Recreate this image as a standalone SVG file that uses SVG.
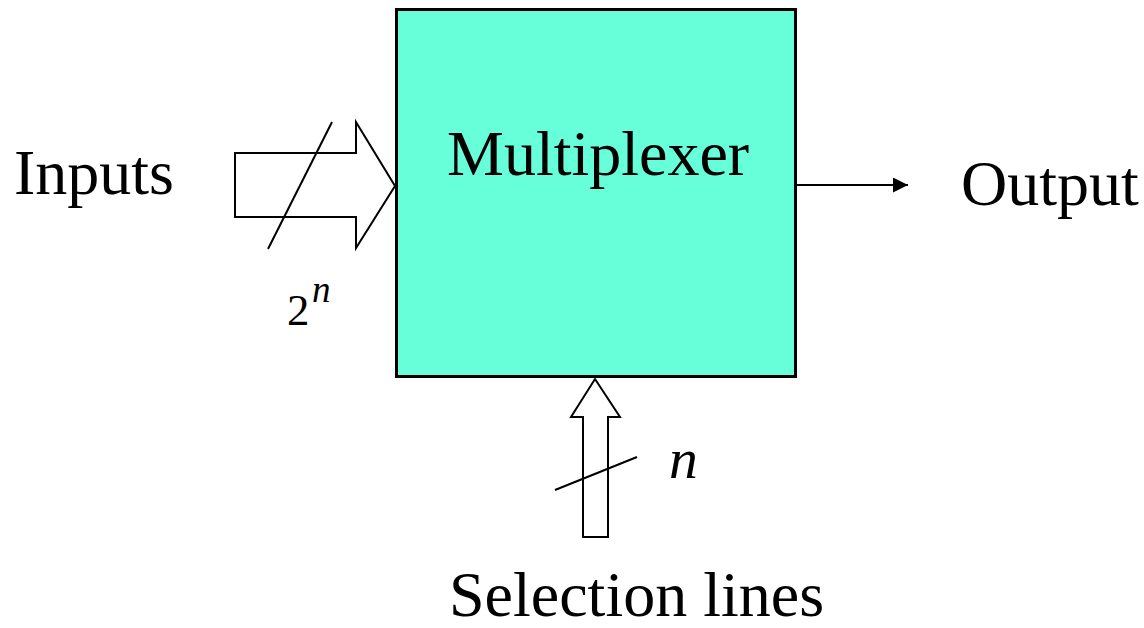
<svg xmlns="http://www.w3.org/2000/svg" width="1144" height="628" viewBox="0 0 1144 628">
<defs>
<style>
.t{font-family:"Liberation Serif","Times New Roman",serif;font-size:64px;fill:#000}
.i{font-family:"Liberation Serif","Times New Roman",serif;font-style:italic;font-size:64px;fill:#000}
.ln{fill:none;stroke:#000;stroke-width:2}
.fat{fill:#fff;stroke:#000;stroke-width:2;stroke-linejoin:miter}
</style>
<marker id="ah" markerWidth="15" markerHeight="15" refX="15" refY="7.5" orient="auto" markerUnits="userSpaceOnUse">
<path d="M0,0 L15,7.5 L0,15 Z" fill="#000"/>
</marker>
</defs>
<rect width="1144" height="628" fill="#fff"/>
<g id="mux">
<rect x="396.5" y="9.5" width="399" height="367" fill="#66FFD9" stroke="#000" stroke-width="3"/>
<text class="t" x="447" y="175">Multiplexer</text>
</g>
<g id="connectors">
<path class="fat" d="M235,153 L356,153 L356,122 L395,186 L356,248 L356,217 L235,217 Z"/>
<line class="ln" x1="268" y1="249" x2="332" y2="122"/>
<path class="fat" d="M595,379 L620,417 L608,417 L608,537 L583,537 L583,417 L571,417 Z"/>
<line class="ln" x1="555" y1="490" x2="637" y2="457"/>
<line class="ln" x1="797" y1="185" x2="908" y2="185" marker-end="url(#ah)"/>
</g>
<g id="inputs"><text class="t" x="14" y="194">Inputs</text></g>
<g id="label2n"><text class="t" transform="translate(287 325) scale(0.7)">2</text><text class="i" transform="translate(312 302) scale(0.58)">n</text></g>
<g id="output"><text class="t" x="961" y="205">Output</text></g>
<g id="sel"><text class="t" x="449" y="616">Selection lines</text></g>
<g id="labeln"><text class="i" transform="translate(669 478) scale(0.9)">n</text></g>
</svg>
